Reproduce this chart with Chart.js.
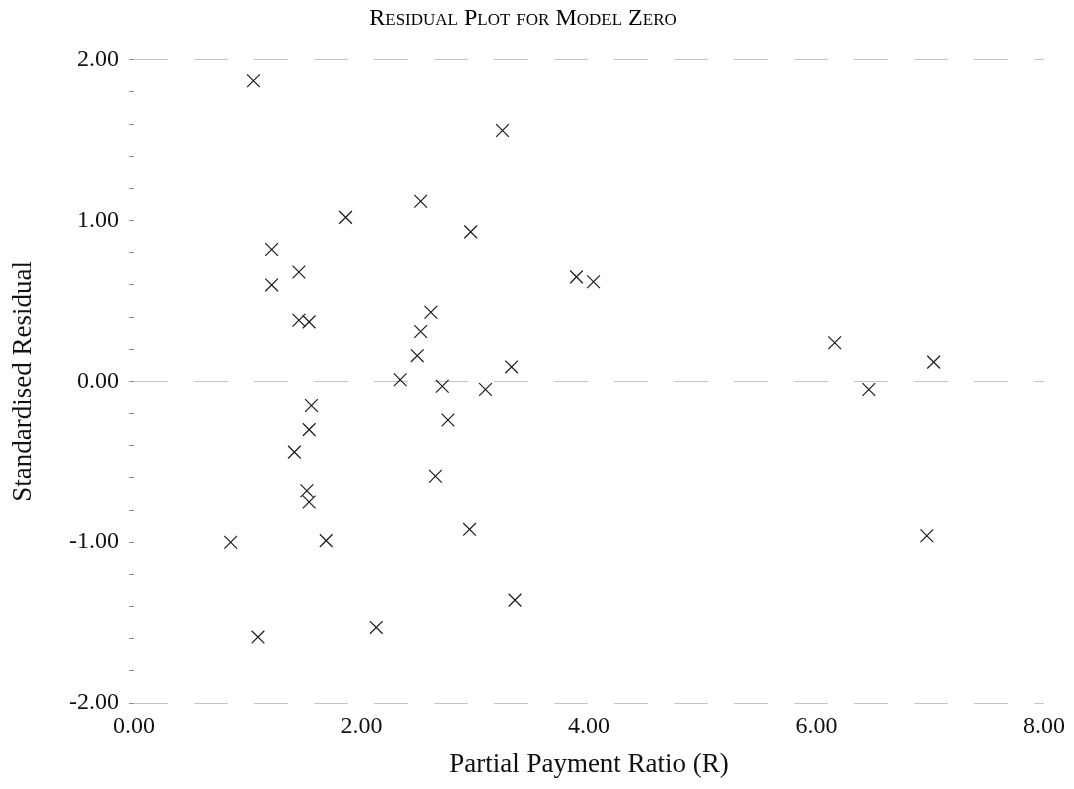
<!DOCTYPE html>
<html>
<head>
<meta charset="utf-8">
<title>Residual Plot for Model Zero</title>
<script src="https://cdn.jsdelivr.net/npm/chart.js@4/dist/chart.umd.min.js"></script>
<style>
  html, body { margin: 0; padding: 0; background: #fff; }
  #wrap { width: 1074px; height: 789px; }
</style>
</head>
<body>
<div id="wrap"><canvas id="residualChart" width="1074" height="789"></canvas></div>
<script>
// Partial payment ratio (R) for each case
const ratioR = [
  1.05, 2.52, 1.86, 1.21, 1.45, 1.21, 1.45, 1.54, 2.61, 2.52,
  2.49, 2.34, 2.71, 1.56, 1.54, 1.41, 1.52, 1.54, 0.85, 1.69,
  1.09, 2.13, 2.65, 2.76, 3.24, 2.96, 3.89, 4.04, 3.32, 3.09,
  2.95, 3.35, 6.16, 7.03, 6.46, 6.97
];

// Standardised residual for the same cases
const residuals = [
  1.87, 1.12, 1.02, 0.82, 0.68, 0.60, 0.38, 0.37, 0.43, 0.31,
  0.16, 0.01, -0.03, -0.15, -0.30, -0.44, -0.68, -0.75, -1.00, -0.99,
  -1.59, -1.53, -0.59, -0.24, 1.56, 0.93, 0.65, 0.62, 0.09, -0.05,
  -0.92, -1.36, 0.24, 0.12, -0.05, -0.96
];

// Axis ranges and steps
const xRange = [0, 8];
const xStep = 2;
const yRange = [-2, 2];
const yStep = 0.2;
const yGridAt = [-2, 0, 2];

const serif = "'Liberation Serif', 'Times New Roman', serif";
const isWhole = v => Math.abs(v - Math.round(v)) < 1e-6;

/* ================================
   DATOS -> puntos
================================= */
const puntos = ratioR.map((r, i) => ({ x: r, y: residuals[i] }));

new Chart(document.getElementById('residualChart'), {
  type: 'scatter',
  data: {
    datasets: [{
      label: 'Standardised Residual',
      data: puntos,
      pointStyle: 'crossRot',
      pointRadius: 9,
      pointHoverRadius: 9,
      borderColor: '#1a1a1a',
      borderWidth: 1.2
    }]
  },
  options: {
    responsive: false,
    animation: false,
    events: [],
    layout: { padding: { top: 0, right: 28, bottom: 0, left: 0 } },
    plugins: {
      legend: { display: false },
      tooltip: { enabled: false },
      title: {
        display: true,
        text: 'Residual Plot for Model Zero',
        color: '#000',
        // small caps like the printed original
        font: { family: serif, size: 24, weight: 'small-caps normal' },
        padding: { top: 4, bottom: 27 }
      }
    },
    scales: {
      x: {
        type: 'linear',
        min: xRange[0],
        max: xRange[1],
        afterFit: scale => { scale.height = 86; },
        border: { display: false },
        grid: { display: false, drawTicks: false },
        ticks: {
          stepSize: xStep,
          padding: 9,
          color: '#111',
          font: { family: serif, size: 24 },
          callback: v => Number(v).toFixed(2)
        },
        title: {
          display: true,
          text: 'Partial Payment Ratio (R)',
          color: '#111',
          font: { family: serif, size: 27 },
          padding: { top: 0, bottom: 8 }
        }
      },
      y: {
        type: 'linear',
        min: yRange[0],
        max: yRange[1],
        afterFit: scale => { scale.width = 134; },
        border: { display: false, dash: [34, 26] },
        grid: {
          drawTicks: true,
          tickLength: 5,
          tickWidth: 1,
          tickColor: '#8a8a8a',
          lineWidth: 1,
          color: ctx => yGridAt.some(g => Math.abs(ctx.tick.value - g) < 1e-6) ? '#c4c4c4' : 'rgba(0,0,0,0)'
        },
        ticks: {
          stepSize: yStep,
          autoSkip: false,
          padding: 10,
          color: '#111',
          font: { family: serif, size: 24 },
          callback: v => isWhole(v) ? Number(v).toFixed(2) : ''
        },
        title: {
          display: true,
          text: 'Standardised Residual',
          color: '#111',
          font: { family: serif, size: 27 },
          padding: { top: 8, bottom: 0 }
        }
      }
    }
  }
});
</script>
</body>
</html>
